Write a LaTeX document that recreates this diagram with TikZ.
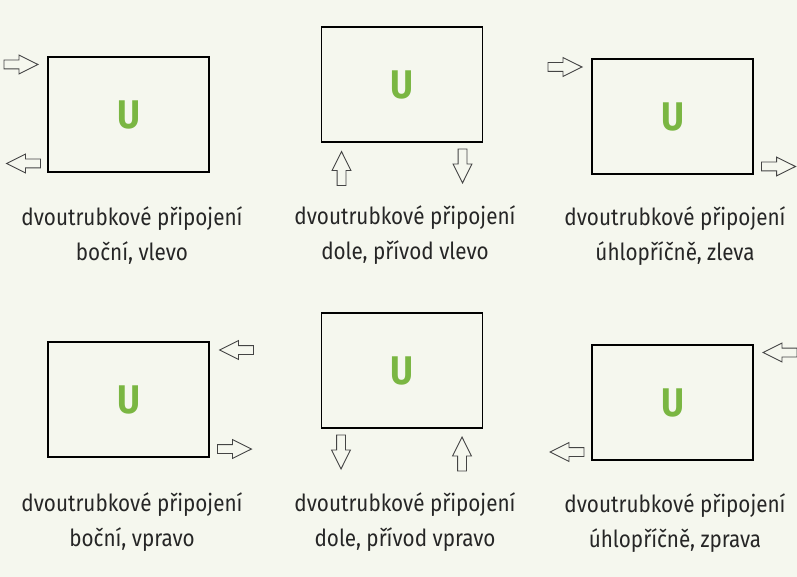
\documentclass[tikz,border=0pt]{standalone}
\usepackage{fontspec}
\setmainfont{Fira Sans}[FakeStretch=0.88]
\usepackage{tikz}
\usetikzlibrary{shapes.arrows,backgrounds}

\definecolor{paper}{HTML}{F5F7EE}
\definecolor{ugreen}{HTML}{7AB642}
\definecolor{pipegray}{HTML}{444444}

\begin{document}
\begin{tikzpicture}[x=1pt,y=-1pt]

\begin{scope}[radiator/.style={draw,line width=1.2pt,minimum width=161pt,minimum height=115pt,inner sep=0,text=ugreen,font=\fontsize{40}{40}\selectfont\bfseries},
pipe/.style={draw=pipegray,line width=0.9pt,single arrow,single arrow head extend=5pt,single arrow tip angle=53,minimum height=34pt,inner xsep=0,inner ysep=4pt,anchor=tip},
caption/.style={align=center,font=\fontsize{23.5}{35}\selectfont,text=black!85}]
\fill[paper] (0,0) rectangle (797,577);
\useasboundingbox (0,0) rectangle (797,577);

% Nodes
\node[radiator] (r1) at (128.5,114.5) {U};
\node[radiator] (r2) at (402,84.5) {U};
\node[radiator] (r3) at (672.5,116.5) {U};
\node[radiator] (r4) at (128.5,399.5) {U};
\node[radiator] (r5) at (402,370.5) {U};
\node[radiator] (r6) at (672.5,402.5) {U};

%pipes (placed by their tips)
\node[pipe,rotate=0] (in1) at (39,64.5) {};
\node[pipe,rotate=180] (out1) at (5.5,163.5) {};
\node[pipe,rotate=90] (in2) at (341.5,150.5) {};
\node[pipe,rotate=270] (out2) at (462.5,184) {};
\node[pipe,rotate=0] (in3) at (583,67) {};
\node[pipe,rotate=0] (out3) at (796.5,166.5) {};
\node[pipe,rotate=180] (in4) at (218.5,350) {};
\node[pipe,rotate=0] (out4) at (252.5,449) {};
\node[pipe,rotate=270] (out5) at (341,470) {};
\node[pipe,rotate=90] (in5) at (462,436) {};
\node[pipe,rotate=180] (in6) at (762,352.5) {};
\node[pipe,rotate=180] (out6) at (549,452) {};

%captions
\node[caption] (t1) at (132,235.5) {dvoutrubkové připojení\\boční, vlevo};
\node[caption] (t2) at (405,235.5) {dvoutrubkové připojení\\dole, přívod vlevo};
\node[caption] (t3) at (675,236) {dvoutrubkové připojení\\úhlopříčně, zleva};
\node[caption] (t4) at (132,522) {dvoutrubkové připojení\\boční, vpravo};
\node[caption] (t5) at (405,522) {dvoutrubkové připojení\\dole, přívod vpravo};
\node[caption] (t6) at (675,523) {dvoutrubkové připojení\\úhlopříčně, zprava};

\end{scope}

\end{tikzpicture}
\end{document}
